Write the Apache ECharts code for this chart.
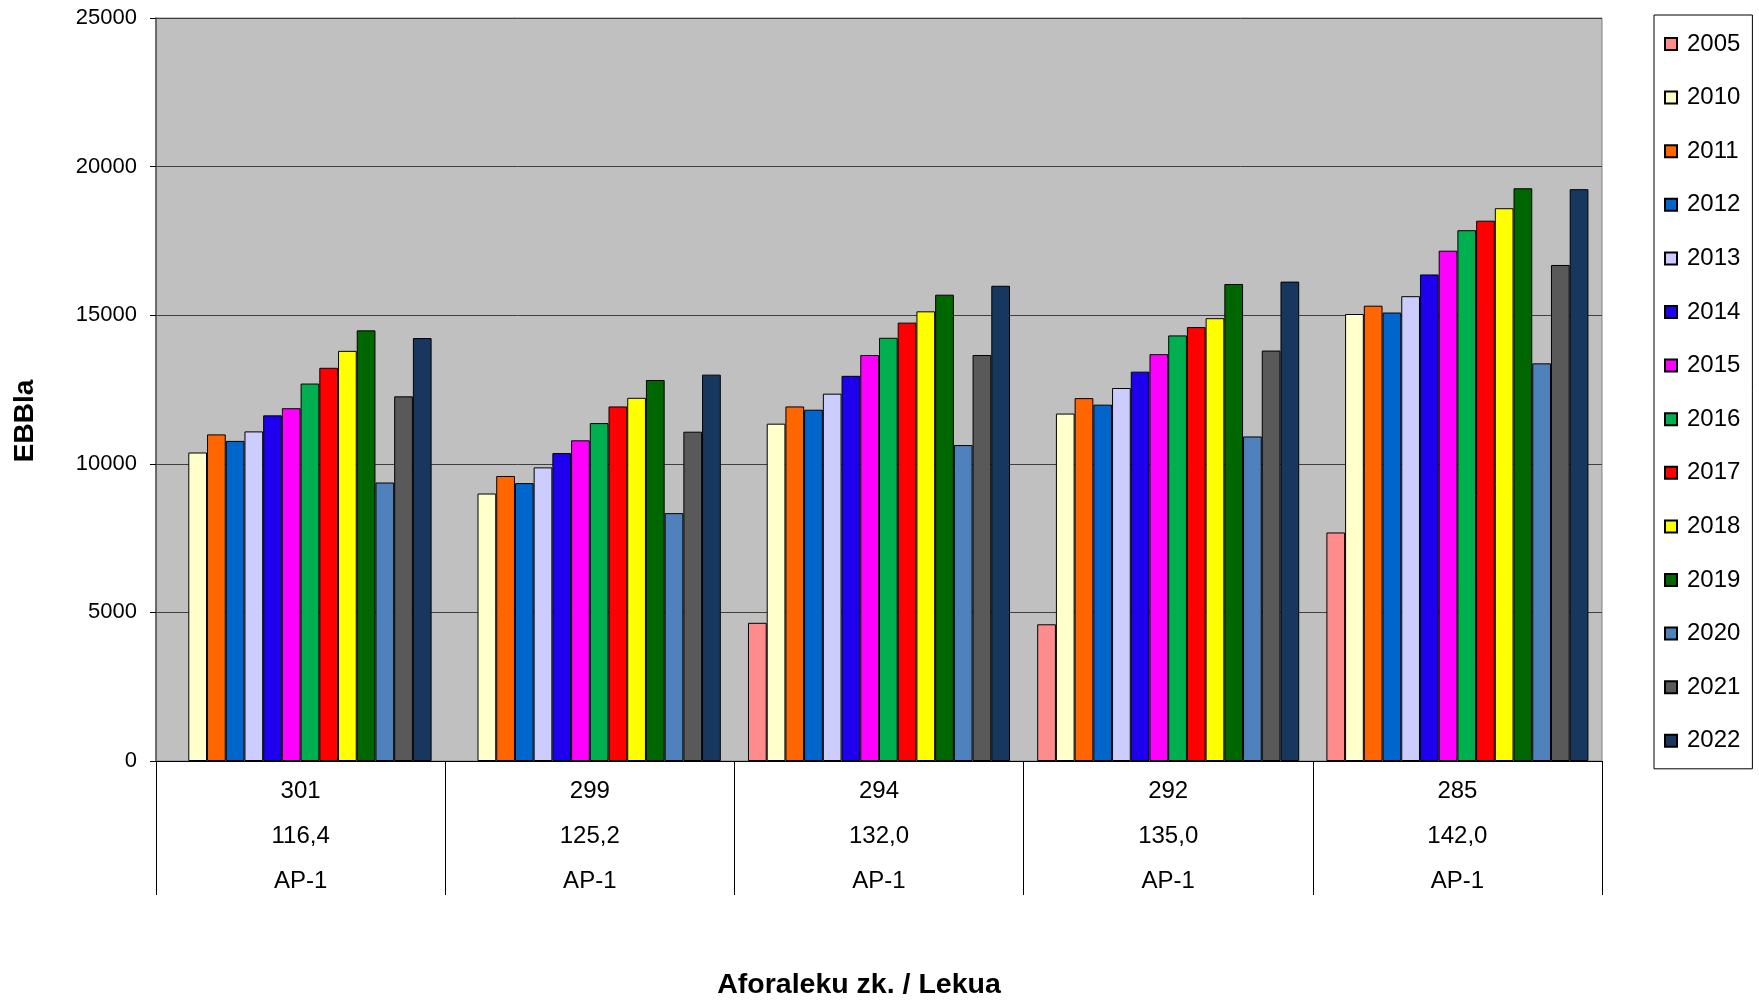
<!DOCTYPE html>
<html>
<head>
<meta charset="utf-8">
<script src="https://cdn.jsdelivr.net/npm/echarts@6/dist/echarts.min.js"></script>
<style>
html,body{margin:0;padding:0;background:#fff;}
#chart{width:1759px;height:1001px;}
</style>
</head>
<body>
<div id="chart"></div>
<script>
// ---- data ----
const stations = ['301', '299', '294', '292', '285'];
const kmPoints = ['116,4', '125,2', '132,0', '135,0', '142,0'];
const roads = ['AP-1', 'AP-1', 'AP-1', 'AP-1', 'AP-1'];
const years = ['2005','2010','2011','2012','2013','2014','2015','2016','2017','2018','2019','2020','2021','2022'];
const yTicks = [0, 5000, 10000, 15000, 20000, 25000];

const v2005 = [null, null, 4650, 4600, 7690];
const v2010 = [10380, 9000, 11350, 11690, 15040];
const v2011 = [10990, 9590, 11930, 12210, 15320];
const v2012 = [10770, 9350, 11820, 11990, 15090];
const v2013 = [11090, 9880, 12360, 12550, 15640];
const v2014 = [11630, 10360, 12960, 13100, 16370];
const v2015 = [11870, 10790, 13660, 13690, 17170];
const v2016 = [12700, 11370, 14240, 14320, 17860];
const v2017 = [13230, 11930, 14750, 14600, 18180];
const v2018 = [13800, 12220, 15130, 14900, 18600];
const v2019 = [14490, 12820, 15690, 16050, 19270];
const v2020 = [9370, 8340, 10630, 10920, 13380];
const v2021 = [12270, 11080, 13660, 13810, 16690];
const v2022 = [14230, 13000, 15990, 16130, 19240];

const seriesValues = [v2005, v2010, v2011, v2012, v2013, v2014, v2015, v2016, v2017, v2018, v2019, v2020, v2021, v2022];
const colors = ['#FF8C8C','#FFFFCC','#FF6600','#0066CC','#CCCCFF','#1E00EE','#FF00FF','#00B050','#FF0000','#FFFF00','#006600','#4F81BD','#595959','#17375E'];

const FONT = '"Liberation Sans", Arial, sans-serif';

const chart = echarts.init(document.getElementById('chart'), null, {renderer: 'canvas'});

const series = years.map((y, i) => ({
  name: y,
  type: 'bar',
  data: seriesValues[i],
  barGap: '0%',
  barCategoryGap: '9.4%',
  itemStyle: {color: colors[i], borderColor: '#000', borderWidth: 1},
  emphasis: {disabled: true},
  animation: false
}));

chart.setOption({
  animation: false,
  backgroundColor: '#ffffff',
  color: colors,
  grid: {
    left: 156, right: 157, top: 18, bottom: 240,
    show: true, backgroundColor: '#C0C0C0', borderColor: '#808080', borderWidth: 1
  },
  legend: {
    orient: 'vertical',
    left: 1654, top: 15,
    data: years,
    backgroundColor: '#ffffff',
    borderColor: '#000000', borderWidth: 1,
    padding: [17, 12, 16, 10],
    itemWidth: 12, itemHeight: 12,
    itemGap: 29.6,
    icon: 'rect',
    textStyle: {fontFamily: FONT, fontSize: 24, color: '#000', lineHeight: 24, padding: [0, 0, 0, 5]},
    selectedMode: false
  },
  xAxis: {
    type: 'category',
    data: stations,
    axisLine: {show: true, lineStyle: {color: '#000', width: 1}},
    axisTick: {show: true, alignWithLabel: false, interval: 0, length: 134, lineStyle: {color: '#000', width: 1}},
    axisLabel: {
      interval: 0,
      margin: 8,
      fontFamily: FONT, fontSize: 24, color: '#000', lineHeight: 45,
      formatter: (val, idx) => val + '\n' + kmPoints[idx] + '\n' + roads[idx]
    },
    splitLine: {show: false}
  },
  yAxis: {
    type: 'value',
    min: yTicks[0], max: yTicks[yTicks.length - 1], interval: 5000,
    axisLine: {show: true, lineStyle: {color: '#555', width: 1.5}},
    axisTick: {show: true, length: 6, lineStyle: {color: '#000'}},
    axisLabel: {margin: 19, fontFamily: FONT, fontSize: 22, color: '#000', formatter: (v) => String(v)},
    splitLine: {show: true, lineStyle: {color: '#404040', width: 1}}
  },
  graphic: [
    {
      type: 'text', x: 25, y: 421, rotation: Math.PI / 2,
      style: {text: 'EBBla', fontFamily: FONT, fontWeight: 'bold', fontSize: 28, fill: '#000', textAlign: 'center', textVerticalAlign: 'middle'}
    },
    {
      type: 'text', x: 859, y: 985,
      style: {text: 'Aforaleku zk. / Lekua', fontFamily: FONT, fontWeight: 'bold', fontSize: 28.5, fill: '#000', textAlign: 'center', textVerticalAlign: 'middle'}
    }
  ],
  series: series
});
</script>
</body>
</html>
